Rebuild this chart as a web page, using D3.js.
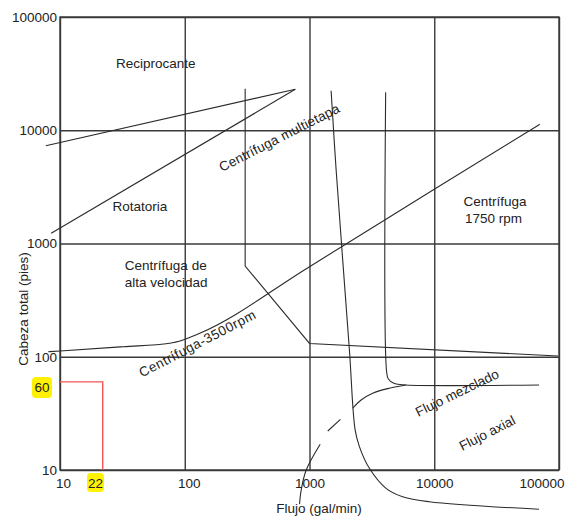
<!DOCTYPE html>
<html><head><meta charset="utf-8">
<script src="https://cdn.jsdelivr.net/npm/d3@7"></script>
<style>
html,body{margin:0;padding:0;background:#fff;}
svg{display:block;font-family:"Liberation Sans",Arial,sans-serif;}
</style></head><body>
<svg id="chart" width="565" height="516"></svg>
<script>
// Axis ticks (log decades)
const flowTicks = [10, 100, 1000, 10000, 100000];
const headTicks = [10, 100, 1000, 10000, 100000];

// Region boundaries, as [flow gal/min, head ft]
const reciprocanteEdge = [[7.7, 7300], [770, 23000]];
const rotatoriaEdge = [[8.5, 1230], [770, 23000]];
const multietapaEdge = [[305, 23200], [305, 632], [1000, 131], [98200, 101.5]];
const rpm3500Edge = [[8.06, 110.8], [10, 112.4], [32.1, 122.7], [75.9, 131.5], [96.9, 140.7],
                     [131.8, 161], [1000, 624], [10000, 3016], [70080, 11285]];
const axialEdge = [[1490, 22300], [1635, 4460], [2089, 114.7], [2321, 22.6], [2512, 16.1],
                   [3020, 10.35], [4107, 6.89], [5576, 5.81], [9120, 5.25], [69200, 4.5]];
const mixedEdge = [[4078, 21630], [4146, 74.8], [4285, 63.6], [4786, 58.0], [5937, 56.3], [69200, 56.3]];
const mixedLowerSolid = [[5937, 56.3], [4365, 52.7], [3209, 47.6], [2592, 41.5], [2220, 35.1]];
const mixedLowerDash = [[1770, 28.0], [1401, 22.1]];
const mixedLowerTail = [[1218, 16.9], [941, 10], [858, 6.66], [832, 5.0]];

// Region labels: [text, flow, head] (baseline start)
const regionLabels = [
  ["Reciprocante", 28.1, 35450],
  ["Rotatoria", 26.4, 1936],
  ["Centrífuga de", 33.1, 578],
  ["alta velocidad", 33.1, 417],
  ["Centrífuga", 17160, 2122],
  ["1750 rpm", 17600, 1532]
];
// Slanted labels: [text, flow, head, angle, letter spacing]
const slantLabels = [
  ["Centrífuga multietapa", 199, 4276, -27, 0.2],
  ["Centrífuga-3500rpm", 45.5, 65.5, -27.5, 0.5],
  ["Flujo mezclado", 7447, 29.4, -26, 0],
  ["Flujo axial", 16750, 14.7, -27, 0]
];

// Marked operating point
const pointFlow = 22;
const pointHead = 60;

const svg = d3.select("#chart");
const L = 60, R = 559, T = 17, B = 470;
const x = d3.scaleLog().domain([10, 100000]).range([L, R]);
const y = d3.scaleLog().domain([10, 100000]).range([B, T]);
const ink = "#2b2b2b";

// Grid via axes
const gx = svg.append("g").attr("transform", `translate(0,${B})`)
  .call(d3.axisBottom(x).tickValues(flowTicks).tickFormat(d3.format("d"))
    .tickSize(-(B - T)).tickPadding(8));
const gy = svg.append("g").attr("transform", `translate(${L},0)`)
  .call(d3.axisLeft(y).tickValues(headTicks).tickFormat(d3.format("d"))
    .tickSize(-(R - L)).tickPadding(3));
[gx, gy].forEach(g => {
  g.select(".domain").remove();
  g.selectAll(".tick line").attr("stroke", "#3a3a3a").attr("stroke-width", 1.4);
  g.selectAll(".tick text").attr("fill", "#222").style("font-size", "13.5px")
    .style("font-family", "'Liberation Sans', Arial, sans-serif");
});
gx.selectAll(".tick text").filter(d => d === 10).attr("dx", 3);
gx.selectAll(".tick text").filter(d => d === 100).attr("dx", 4);
gx.selectAll(".tick text").filter(d => d === 100000).attr("text-anchor", "end").attr("x", 5);

// Frame
svg.append("rect").attr("x", L).attr("y", T).attr("width", R - L).attr("height", B - T)
  .attr("fill", "none").attr("stroke", "#3a3a3a").attr("stroke-width", 1.4);

// Boundary curves
const straight = d3.line().x(d => x(d[0])).y(d => y(d[1]));
const smooth = d3.line().x(d => x(d[0])).y(d => y(d[1])).curve(d3.curveCatmullRom.alpha(0.5));
const smoothX = d3.line().x(d => x(d[0])).y(d => y(d[1])).curve(d3.curveMonotoneX);
const curves = svg.append("g").attr("fill", "none").attr("stroke", ink).attr("stroke-width", 1.1);
curves.append("path").attr("d", straight(reciprocanteEdge));
curves.append("path").attr("d", straight(rotatoriaEdge));
curves.append("path").attr("d", straight(multietapaEdge));
curves.append("path").attr("d", smoothX(rpm3500Edge));
curves.append("path").attr("d", smooth(axialEdge));
curves.append("path").attr("d", smooth(mixedEdge));
curves.append("path").attr("d", smooth(mixedLowerSolid));
curves.append("path").attr("d", straight(mixedLowerDash));
curves.append("path").attr("d", smooth(mixedLowerTail));

// Region labels
svg.append("g").selectAll("text").data(regionLabels).join("text")
  .attr("x", d => x(d[1])).attr("y", d => y(d[2]))
  .attr("fill", "#222").style("font-size", "13.5px")
  .text(d => d[0]);
svg.append("g").selectAll("text").data(slantLabels).join("text")
  .attr("transform", d => `translate(${x(d[1])},${y(d[2])}) rotate(${d[3]})`)
  .attr("fill", "#222").style("font-size", "13.5px")
  .style("letter-spacing", d => d[4] + "px")
  .text(d => d[0]);

// Axis titles
svg.append("text").attr("transform", "translate(28,309) rotate(-90)")
  .attr("text-anchor", "middle").attr("fill", "#222").style("font-size", "13.5px")
  .text("Cabeza total (pies)");
svg.append("text").attr("x", 319).attr("y", 513)
  .attr("text-anchor", "middle").attr("fill", "#222").style("font-size", "13.5px")
  .text("Flujo (gal/min)");

// Operating point guide lines
svg.append("path")
  .attr("d", straight([[10, pointHead], [pointFlow, pointHead], [pointFlow, 10]]))
  .attr("fill", "none").attr("stroke", "#f25555").attr("stroke-width", 1.4);

// Highlighted readouts
const hl = svg.append("g");
hl.append("rect").attr("x", 32).attr("y", 377).attr("width", 20).attr("height", 21).attr("rx", 4)
  .attr("fill", "#fff200");
hl.append("text").attr("x", 42).attr("y", 392.2).attr("text-anchor", "middle")
  .attr("fill", "#222").style("font-size", "13.5px").text(String(pointHead));
hl.append("rect").attr("x", 87).attr("y", 473).attr("width", 17).attr("height", 19).attr("rx", 4)
  .attr("fill", "#fff200");
hl.append("text").attr("x", 95.5).attr("y", 488).attr("text-anchor", "middle")
  .attr("fill", "#222").style("font-size", "13.5px").text(String(pointFlow));
</script>
</body></html>
